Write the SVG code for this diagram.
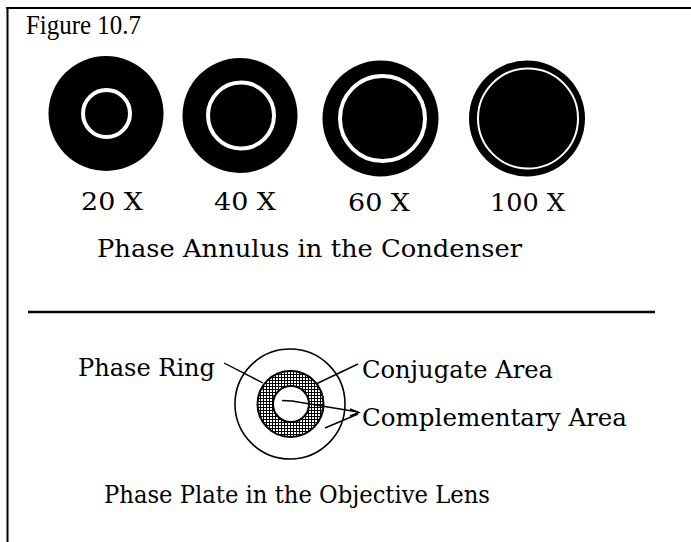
<svg xmlns="http://www.w3.org/2000/svg" width="691" height="542" viewBox="0 0 691 542">
<defs>
<pattern id="stip" width="3" height="3" patternUnits="userSpaceOnUse">
<rect width="3" height="3" fill="#000"/>
<rect width="2" height="2" fill="#fff"/>
</pattern>
<style>
.lbl{font-family:"DejaVu Serif","Liberation Serif",serif;font-size:25px;fill:#000}
.ttl{font-family:"Liberation Serif","Times New Roman",serif;font-size:27px;fill:#000}
.disc{fill:#000}
.ring{fill:none;stroke:#fff}
.thin{fill:none;stroke:#000;stroke-width:1.6}
.lead{fill:none;stroke:#000;stroke-width:1.4}
</style>
</defs>
<rect width="691" height="542" fill="#fff"/>
<g id="frame">
<line x1="6" y1="8" x2="691" y2="8" stroke="#000" stroke-width="2"/>
<line x1="7.5" y1="7" x2="7.5" y2="542" stroke="#000" stroke-width="2"/>
<line x1="28" y1="312" x2="655" y2="312" stroke="#000" stroke-width="2.6"/>
</g>
<text id="title" class="ttl" x="26" y="34" textLength="115" lengthAdjust="spacingAndGlyphs">Figure 10.7</text>
<g id="annulus20">
<circle class="disc" cx="106" cy="113.5" r="57.5"/>
<circle class="ring" cx="106.5" cy="113.5" r="23.5" stroke-width="4"/>
<text class="lbl" x="81" y="210" textLength="62" lengthAdjust="spacingAndGlyphs">20 X</text>
</g>
<g id="annulus40">
<circle class="disc" cx="240" cy="115.5" r="57.5"/>
<circle class="ring" cx="241" cy="115.5" r="33" stroke-width="4"/>
<text class="lbl" x="214" y="210" textLength="62" lengthAdjust="spacingAndGlyphs">40 X</text>
</g>
<g id="annulus60">
<circle class="disc" cx="380.5" cy="118.5" r="58"/>
<circle class="ring" cx="382.5" cy="118.5" r="42.5" stroke-width="4"/>
<text class="lbl" x="348" y="211" textLength="62" lengthAdjust="spacingAndGlyphs">60 X</text>
</g>
<g id="annulus100">
<circle class="disc" cx="527" cy="118.5" r="58"/>
<circle class="ring" cx="528" cy="118.5" r="50" stroke-width="2"/>
<text class="lbl" x="490" y="211" textLength="75" lengthAdjust="spacingAndGlyphs">100 X</text>
</g>
<text id="caption1" class="lbl" x="97" y="257" textLength="425" lengthAdjust="spacingAndGlyphs">Phase Annulus in the Condenser</text>
<g id="phaseplate">
<circle class="thin" cx="290" cy="404" r="55"/>
<circle cx="290.5" cy="404" r="33" fill="url(#stip)" stroke="#000" stroke-width="2"/>
<circle cx="291" cy="404" r="18" fill="#fff" stroke="#000" stroke-width="2"/>
</g>
<g id="connectors">
<polyline class="lead" points="224,363 263,383"/>
<polyline class="lead" points="316,384 358,364"/>
<polyline class="lead" points="282,400.5 292,401 358,412"/>
<polyline class="lead" points="325,428 358,414"/>
<polyline class="lead" points="350,409 359,412.5 350,416"/>
</g>
<g id="labelPhaseRing"><text class="lbl" x="78" y="376" textLength="137" lengthAdjust="spacingAndGlyphs">Phase Ring</text></g>
<g id="labelConjugate"><text class="lbl" x="362" y="378" textLength="191" lengthAdjust="spacingAndGlyphs">Conjugate Area</text></g>
<g id="labelComplementary"><text class="lbl" x="362" y="426" textLength="265" lengthAdjust="spacingAndGlyphs">Complementary Area</text></g>
<text id="caption2" class="lbl" x="104" y="503" textLength="386" lengthAdjust="spacingAndGlyphs">Phase Plate in the Objective Lens</text>
</svg>
